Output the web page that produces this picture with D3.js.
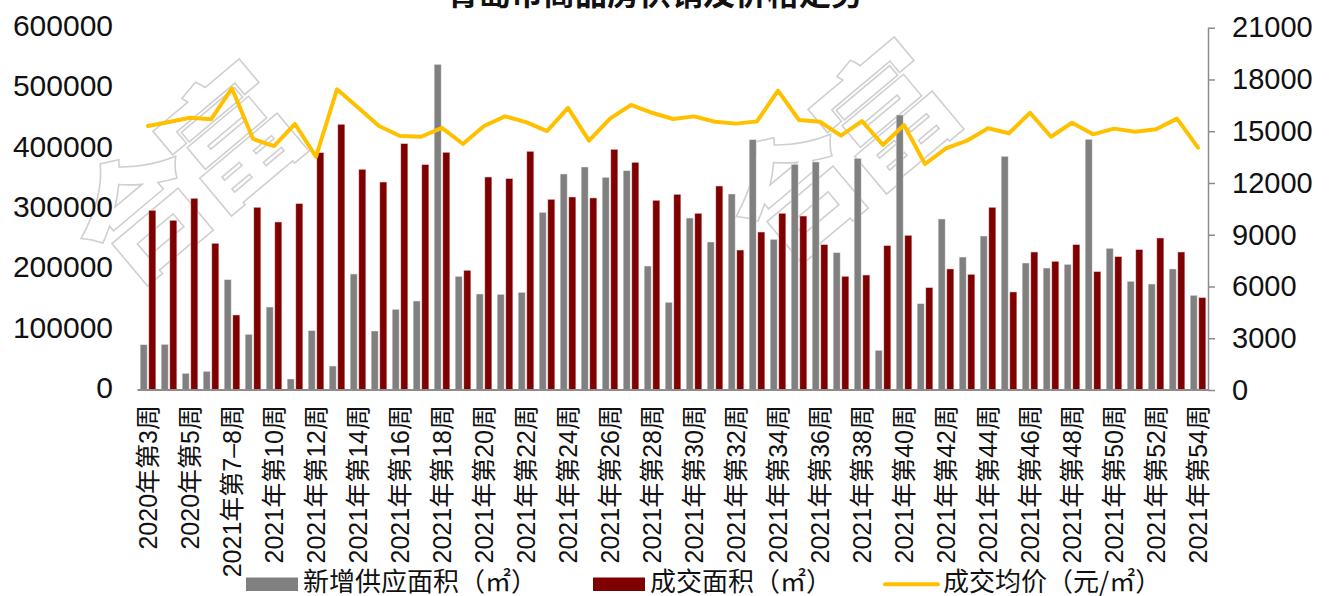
<!DOCTYPE html>
<html>
<head>
<meta charset="utf-8">
<script src="https://cdn.jsdelivr.net/npm/d3@7"></script>
<style>
  html, body { margin: 0; padding: 0; background: #fff; }
  svg { display: block; }
  text { font-family: "Liberation Sans", "Noto Sans CJK SC", sans-serif; }
</style>
</head>
<body>
<svg id="chart" width="1330" height="596"></svg>
<script>
const title = "青岛市商品房供销及价格走势";
const categories = [
  "2020年第3周","2020年第4周","2020年第5周","2020年第6周","2021年第7–8周","2021年第9周",
  "2021年第10周","2021年第11周","2021年第12周","2021年第13周","2021年第14周","2021年第15周",
  "2021年第16周","2021年第17周","2021年第18周","2021年第19周","2021年第20周","2021年第21周",
  "2021年第22周","2021年第23周","2021年第24周","2021年第25周","2021年第26周","2021年第27周",
  "2021年第28周","2021年第29周","2021年第30周","2021年第31周","2021年第32周","2021年第33周",
  "2021年第34周","2021年第35周","2021年第36周","2021年第37周","2021年第38周","2021年第39周",
  "2021年第40周","2021年第41周","2021年第42周","2021年第43周","2021年第44周","2021年第45周",
  "2021年第46周","2021年第47周","2021年第48周","2021年第49周","2021年第50周","2021年第51周",
  "2021年第52周","2021年第53周","2021年第54周"
];
const seriesNames = ["新增供应面积（㎡）", "成交面积（㎡）", "成交均价（元/㎡）"];
const supply = [
  75000, 75600, 27600, 30900, 182700, 92200, 137400, 18200, 98300, 39700,
  192100, 97700, 133600, 147400, 539300, 188200, 159000, 158400, 161700, 294200,
  357700, 369300, 352200, 363200, 205300, 145200, 284800, 245100, 324600, 414600,
  249500, 373700, 377600, 227400, 383600, 65700, 455400, 143000, 283200, 220200,
  255000, 387000, 210300, 202000, 208100, 415100, 234600, 180000, 175500, 200400, 156800
];
const sales = [
  297500, 281000, 317400, 242900, 124200, 302500, 278200, 308600, 393000, 440000,
  365400, 344400, 407900, 373200, 393600, 198200, 352700, 350000, 395200, 315700,
  319600, 318000, 398500, 377000, 314100, 324000, 292600, 337800, 231800, 261600,
  292600, 288100, 240700, 188200, 190400, 239000, 256100, 169500, 200400, 191500,
  302500, 162300, 228500, 213100, 240700, 196000, 220800, 232400, 251700, 228500, 152900
];
const price = [
  15300, 15530, 15780, 15690, 17480, 14550, 14140, 15420, 13520, 17430,
  16380, 15300, 14720, 14680, 15190, 14260, 15300, 15860, 15530, 15010,
  16350, 14450, 15730, 16520, 16070, 15710, 15860, 15550, 15440, 15570,
  17350, 15650, 15550, 14740, 15590, 14200, 15360, 13100, 14010, 14450,
  15170, 14880, 16070, 14680, 15490, 14820, 15150, 14970, 15110, 15730, 14050
];
const leftTicks = [0, 100000, 200000, 300000, 400000, 500000, 600000];
const rightTicks = [0, 3000, 6000, 9000, 12000, 15000, 18000, 21000];
const watermarkChars = ["合", "富"];

const colors = { supply: "#808080", sales: "#7f0000", price: "#ffc000", axis: "#8c8c8c" };

const svg = d3.select("#chart");
const W = 1330, H = 596;
const m = { left: 137.5, right: 1208.5, top: 27.7, bottom: 390 };

// watermark glyphs (behind everything), only those fully inside the picture
const wm = svg.append("g").attr("class", "watermark");
const wmStarts = [[140, 212], [795, 190]];
const wmStep = 118, ang = -40 * Math.PI / 180;
wmStarts.forEach(s => {
  watermarkChars.forEach((ch, k) => {
    const cx = s[0] + k * wmStep * Math.cos(ang);
    const cy = s[1] + k * wmStep * Math.sin(ang);
    wm.append("text")
      .attr("transform", `translate(${cx},${cy}) rotate(-40)`)
      .attr("text-anchor", "middle")
      .attr("dy", "0.38em")
      .attr("font-size", 130)
      .attr("font-weight", 900)
      .style("font-family", "'Noto Sans CJK SC'")
      .attr("fill", "none")
      .attr("stroke", "#d0d0d0")
      .attr("stroke-width", 1.6)
      .text(ch);
  });
});

const x = d3.scaleBand().domain(categories).range([m.left, m.right]).paddingInner(0).paddingOuter(0);
const x1 = d3.scaleBand().domain(["supply", "sales"]).range([0, x.bandwidth()]).paddingInner(0.195).paddingOuter(0.305);
const yL = d3.scaleLinear().domain([0, 600000]).range([m.bottom, m.top]);
const yR = d3.scaleLinear().domain([0, 21000]).range([m.bottom, m.top]);

// bars
const gBars = svg.append("g");
gBars.selectAll("rect.supply").data(supply).join("rect")
  .attr("class", "supply")
  .attr("x", (d, i) => x(categories[i]) + x1("supply"))
  .attr("width", x1.bandwidth())
  .attr("y", d => yL(d))
  .attr("height", d => yL(0) - yL(d))
  .attr("fill", colors.supply)
  .attr("stroke", "#e8e8e8").attr("stroke-width", 0.5);
gBars.selectAll("rect.sales").data(sales).join("rect")
  .attr("class", "sales")
  .attr("x", (d, i) => x(categories[i]) + x1("sales"))
  .attr("width", x1.bandwidth())
  .attr("y", d => yL(d))
  .attr("height", d => yL(0) - yL(d))
  .attr("fill", colors.sales)
  .attr("stroke", "#e6c8c8").attr("stroke-width", 0.5);

// bottom axis line
svg.append("line")
  .attr("x1", m.left).attr("x2", m.right)
  .attr("y1", yL(0)).attr("y2", yL(0))
  .attr("stroke", colors.axis).attr("stroke-width", 1.8);

// price line
const line = d3.line()
  .x((d, i) => x(categories[i]) + x.bandwidth() / 2)
  .y(d => yR(d));
svg.append("path").datum(price)
  .attr("d", line)
  .attr("fill", "none")
  .attr("stroke", colors.price)
  .attr("stroke-width", 4)
  .attr("stroke-linejoin", "round")
  .attr("stroke-linecap", "round");

// left axis (labels only)
const axL = svg.append("g").attr("transform", `translate(113,-2)`)
  .call(d3.axisLeft(yL).tickValues(leftTicks).tickSize(0).tickPadding(0).tickFormat(d3.format("d")));
axL.select(".domain").remove();
axL.selectAll("text").attr("font-size", 30).attr("fill", "#111")
  .style("font-family", "'Liberation Sans', sans-serif");

// right axis
const axR = svg.append("g").attr("transform", `translate(${m.right - 0.5},0)`)
  .call(d3.axisRight(yR).tickValues(rightTicks).tickSizeInner(7).tickSizeOuter(0).tickPadding(17).tickFormat(d3.format("d")));
axR.select(".domain").attr("stroke", colors.axis).attr("stroke-width", 1.5);
axR.selectAll(".tick line").attr("stroke", colors.axis).attr("stroke-width", 1.5);
axR.selectAll("text").attr("font-size", 29).attr("fill", "#111")
  .style("font-family", "'Liberation Sans', sans-serif");

// x labels (every other category)
const axB = svg.append("g").attr("transform", `translate(0,${m.bottom})`)
  .call(d3.axisBottom(x).tickValues(categories.filter((c, i) => i % 2 === 0)).tickSize(0).tickPadding(0));
axB.select(".domain").remove();
axB.selectAll("text")
  .attr("font-size", 25)
  .attr("fill", "#111")
  .attr("text-anchor", "end")
  .attr("y", 0)
  .attr("transform", "translate(0,15) rotate(-90)")
  .attr("dy", "0.36em");

// title
svg.append("text")
  .attr("x", 655).attr("y", 5)
  .attr("text-anchor", "middle")
  .attr("font-size", 32)
  .attr("font-weight", 700)
  .attr("fill", "#111")
  .style("font-family", "'Noto Sans CJK SC', sans-serif")
  .text(title);

// legend
const lg = svg.append("g");
const legendItems = [
  { type: "rect", color: colors.supply, x: 246, tx: 303, name: seriesNames[0] },
  { type: "rect", color: colors.sales, x: 593, tx: 650, name: seriesNames[1] },
  { type: "line", color: colors.price, x: 885, tx: 943, name: seriesNames[2] }
];
legendItems.forEach(it => {
  if (it.type === "rect") {
    lg.append("rect").attr("x", it.x).attr("y", 577.5).attr("width", 52).attr("height", 13.5).attr("fill", it.color);
  } else {
    lg.append("line").attr("x1", it.x).attr("x2", it.x + 53).attr("y1", 584.3).attr("y2", 584.3)
      .attr("stroke", it.color).attr("stroke-width", 4).attr("stroke-linecap", "round");
  }
  lg.append("text").attr("x", it.tx).attr("y", 582).attr("dy", "0.36em")
    .attr("font-size", 26).attr("fill", "#111")
    .style("font-family", "'Noto Sans CJK SC', sans-serif")
    .text(it.name);
});
</script>
</body>
</html>
